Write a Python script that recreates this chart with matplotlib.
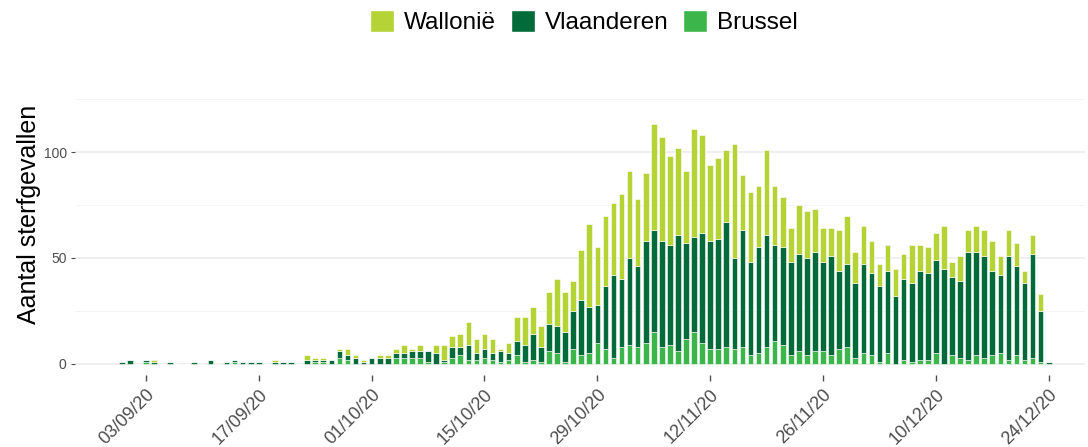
import numpy as np
import pandas as pd
import matplotlib
matplotlib.use('Agg')
import matplotlib.pyplot as plt
import matplotlib.dates as mdates
from matplotlib.patches import Patch

plt.rcParams['font.family'] = ['Liberation Sans', 'DejaVu Sans']

# daily deaths, 31/08/20 .. 24/12/20
start_day = '2020-08-31'

wallonie = [0, 0, 0, 0, 1, 0, 0, 0, 0, 0, 0, 0, 0, 0, 0, 0, 0, 0, 0, 1, 0, 0, 0, 2, 1, 1, 0, 1, 3, 1, 1,
            # oct
            0, 1, 1, 2, 4, 1, 3, 0, 4, 7, 5, 6, 11, 7, 7, 7, 1, 5, 11, 13, 13, 10, 15, 22, 19, 14, 24, 39, 27, 33, 34,
            # nov
            40, 41, 32, 32, 50, 49, 42, 41, 34, 51, 46, 36, 38, 34, 54, 26, 33, 29, 40, 28, 24, 16, 23, 22, 20, 16, 13, 19, 23, 15,
            # dec
            18, 15, 10, 12, 13, 12, 18, 12, 12, 13, 20, 7, 12, 10, 12, 12, 14, 9, 12, 11, 6, 9, 8, 0]

vlaanderen = [1, 2, 0, 1, 1, 0, 1, 0, 0, 1, 0, 2, 0, 1, 1, 1, 1, 1, 0, 1, 1, 1, 0, 2, 1, 1, 2, 3, 2, 3, 1,
              3, 3, 3, 2, 2, 3, 3, 5, 5, 1, 5, 4, 7, 3, 4, 3, 5, 3, 7, 8, 12, 7, 13, 13, 14, 18, 26, 22, 18, 30, 39,
              32, 41, 38, 48, 48, 50, 47, 55, 45, 45, 52, 51, 52, 59, 43, 55, 44, 50, 53, 45, 46, 44, 46, 46, 47, 42, 47, 37, 39, 35,
              42, 39, 36, 39, 32, 38, 37, 42, 41, 44, 45, 37, 36, 51, 49, 48, 40, 37, 49, 42, 36, 49, 24, 1]

brussel = [0, 0, 0, 1, 0, 0, 0, 0, 0, 0, 0, 0, 0, 0, 1, 0, 0, 0, 0, 0, 0, 0, 0, 0, 1, 1, 0, 3, 2, 0, 0,
           0, 0, 0, 3, 3, 3, 3, 1, 0, 1, 3, 4, 2, 2, 3, 2, 1, 2, 4, 1, 2, 1, 6, 5, 1, 7, 4, 5, 10, 7, 3,
           8, 9, 8, 10, 15, 8, 9, 6, 12, 15, 10, 7, 7, 8, 7, 8, 4, 5, 8, 11, 9, 4, 6, 4, 6, 6, 4, 7, 8, 3,
           5, 4, 1, 5, 0, 2, 1, 2, 2, 5, 0, 4, 3, 2, 4, 3, 4, 5, 2, 4, 2, 3, 1, 0]

tick_dates = ['2020-09-03', '2020-09-17', '2020-10-01', '2020-10-15', '2020-10-29',
              '2020-11-12', '2020-11-26', '2020-12-10', '2020-12-24']

days = pd.date_range(start_day, periods=len(wallonie), freq='D')
w = np.array(wallonie)
v = np.array(vlaanderen)
b = np.array(brussel)

c_w = '#B5D334'
c_v = '#026B39'
c_b = '#3CB54A'

fig = plt.figure(figsize=(10.88, 4.47), dpi=100)
ax = fig.add_axes([75/1088, 72/447, 1010/1088, 287/447])

bw = 0.7
ax.bar(days, b, width=bw, color=c_b, edgecolor='white', linewidth=0.4, zorder=3)
ax.bar(days, v, width=bw, bottom=b, color=c_v, edgecolor='white', linewidth=0.4, zorder=3)
ax.bar(days, w, width=bw, bottom=b + v, color=c_w, edgecolor='white', linewidth=0.4, zorder=3)

ax.set_ylim(-5.2, 130.2)
t0 = pd.Timestamp('2020-09-03')
t1 = pd.Timestamp('2020-12-24')
ax.set_xlim(t0 - pd.Timedelta(days=8.8), t1 + pd.Timedelta(days=4.5))

ax.set_yticks([0, 50, 100])
ax.set_yticks([25, 75, 125], minor=True)
ax.yaxis.grid(True, which='major', color='#EBEBEB', linewidth=1.1, zorder=0)
ax.yaxis.grid(True, which='minor', color='#F3F3F3', linewidth=0.6, zorder=0)
ax.tick_params(axis='y', which='minor', length=0)

ax.set_xticks([pd.Timestamp(d) for d in tick_dates])
ax.xaxis.set_major_formatter(mdates.DateFormatter('%d/%m/%y'))
for lab in ax.get_xticklabels():
    lab.set_rotation(45)
    lab.set_ha('right')
    lab.set_rotation_mode('anchor')

ax.tick_params(axis='x', labelsize=13, colors='#4D4D4D', length=4, width=1, pad=4)
ax.tick_params(axis='y', labelsize=10, colors='#4D4D4D', length=3, width=0.8, pad=3)
for s in ax.spines.values():
    s.set_visible(False)

ax.set_ylabel('Aantal sterfgevallen', fontsize=18, color='black')
ax.yaxis.set_label_coords(-0.034, 0.56)

handles = [Patch(facecolor=c_w, edgecolor='white'),
           Patch(facecolor=c_v, edgecolor='white'),
           Patch(facecolor=c_b, edgecolor='white')]
fig.legend(handles, ['Wallonië', 'Vlaanderen', 'Brussel'], loc='center', ncol=3,
           bbox_to_anchor=(584/1088, 1 - 22/447), frameon=False, fontsize=17.5,
           handlelength=1.0, handleheight=1.0, handletextpad=0.4, columnspacing=0.6)

fig.savefig('out.png', dpi=100)
